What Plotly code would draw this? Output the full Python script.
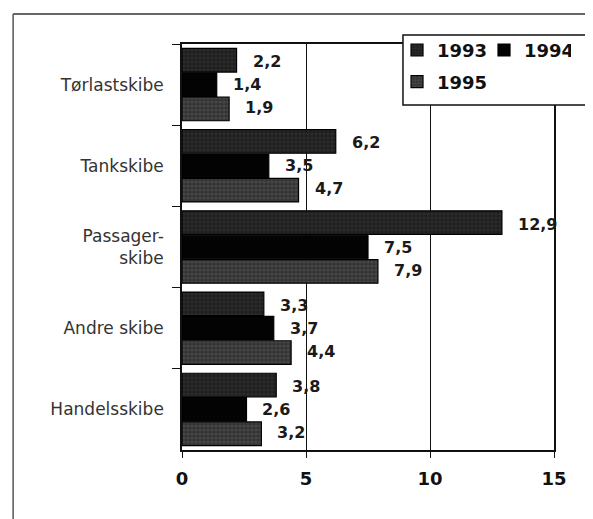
import plotly.graph_objs as go

categories = ['Tørlastskibe', 'Tankskibe', 'Passager-<br>skibe', 'Andre skibe', 'Handelsskibe']
years = ['1993', '1994', '1995']
values_1993 = [2.2, 6.2, 12.9, 3.3, 3.8]
values_1994 = [1.4, 3.5, 7.5, 3.7, 2.6]
values_1995 = [1.9, 4.7, 7.9, 4.4, 3.2]
x_ticks = [0, 5, 10, 15]

series = [values_1993, values_1994, values_1995]
colors = ['#1e1e1e', '#030303', '#333333']
speckle = ['#3a3a3a', '#030303', '#5c5c5c']
legends = ['legend', 'legend', 'legend2']

fig = go.Figure()
for year, vals, col, sp, lg in zip(years, series, colors, speckle, legends):
    fig.add_trace(go.Bar(y=categories, x=vals, name=year, orientation='h',
                         marker=dict(color=col, line=dict(color='#000', width=1.2),
                                     pattern=dict(shape='.', fgcolor=sp, bgcolor=col,
                                                  size=4, solidity=0.5)),
                         legend=lg))

# value labels, comma decimals, placed to the right of each bar
shifts = [23, 0, -23]
for vals, ys in zip(series, shifts):
    for cat, v in zip(categories, vals):
        fig.add_annotation(x=v, y=cat, text=f'{v:.1f}'.replace('.', ','),
                           showarrow=False, xanchor='left', xshift=14, yshift=ys,
                           font=dict(family='DejaVu Sans', size=16, color='#1a1a1a',
                                     weight='bold'))

legend_font = dict(size=18, color='#111', family='DejaVu Sans', weight='bold')
fig.update_layout(
    width=593, height=519,
    margin=dict(l=174, r=47, t=36, b=77),
    paper_bgcolor='white', plot_bgcolor='white',
    bargap=0.1, bargroupgap=0.03,
    font=dict(family='DejaVu Sans', color='#222'),
    legend=dict(orientation='h', x=0.578, y=1.03, xanchor='left', yanchor='top',
                bgcolor='rgba(0,0,0,0)', font=legend_font, itemwidth=30,
                entrywidth=42),
    legend2=dict(orientation='h', x=0.578, y=0.952, xanchor='left', yanchor='top',
                 bgcolor='rgba(0,0,0,0)', font=legend_font, itemwidth=30),
    shapes=[
        # legend box
        dict(type='rect', xref='paper', yref='paper', x0=0.594, x1=1.094, y0=0.850, y1=1.022,
             line=dict(color='#111', width=1.5), fillcolor='white', layer='above'),
        # scan frame: top and left edges
        dict(type='line', xref='paper', yref='paper', x0=-0.454, x1=1.2, y0=1.074, y1=1.074,
             line=dict(color='#333', width=1.5)),
        dict(type='line', xref='paper', yref='paper', x0=-0.454, x1=-0.454, y0=1.074, y1=-0.2,
             line=dict(color='#555', width=1.5)),
    ],
)

fig.update_xaxes(range=[0, 15], tickvals=x_ticks, showgrid=True, gridcolor='#111', gridwidth=1,
                 showline=True, linecolor='#111', linewidth=1.5, mirror=True,
                 ticks='outside', ticklen=6, tickcolor='#111', zeroline=False,
                 ticklabelstandoff=6,
                 tickfont=dict(size=18, color='#111', family='DejaVu Sans', weight='bold'))
fig.update_yaxes(autorange='reversed', showline=True, linecolor='#111', linewidth=1.5, mirror=True,
                 ticks='outside', tickson='boundaries', ticklen=8, tickcolor='#111',
                 tickfont=dict(size=17, color='#333', family='DejaVu Sans'), ticklabelstandoff=13)

fig.write_html('out.html')
